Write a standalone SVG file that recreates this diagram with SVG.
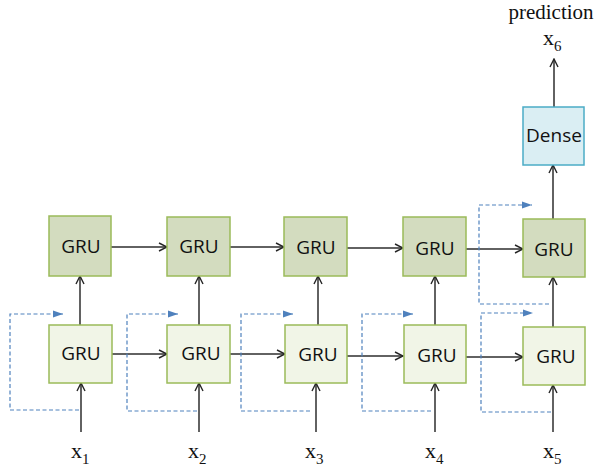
<svg xmlns="http://www.w3.org/2000/svg" width="599" height="469" viewBox="0 0 599 469">
<defs>
<marker id="ah" markerWidth="10" markerHeight="10" refX="9" refY="5" orient="auto" markerUnits="userSpaceOnUse">
<path d="M1,1 L9,5 L1,9" fill="none" stroke="#262626" stroke-width="1.4"/>
</marker>
<marker id="bh" markerWidth="12" markerHeight="10" refX="10" refY="5" orient="auto" markerUnits="userSpaceOnUse">
<path d="M0,1.5 L10,5 L0,8.5 Z" fill="#4f81bd"/>
</marker>
<style>
.top{fill:#d3dcbf;stroke:#9bbb59;stroke-width:1.5}
.bot{fill:#f1f5e7;stroke:#9bbb59;stroke-width:1.5}
.dense{fill:#daeef3;stroke:#4bacc6;stroke-width:1.5}
.lbl{font-family:"Open Sans",sans-serif;font-size:19px;fill:#111;text-anchor:middle}
.ser{font-family:"Liberation Serif",serif;font-size:22px;fill:#111}
.sub{font-size:15px}
.c{fill:none;stroke:#2e2e2e;stroke-width:1.5;marker-end:url(#ah)}
.d{fill:none;stroke:#4f81bd;stroke-width:1.2;stroke-dasharray:4,2.5;marker-end:url(#bh)}
</style>
</defs>
<g id="connectors">
<path class="c" d="M81,432 V383"/>
<path class="c" d="M199,432 V383"/>
<path class="c" d="M316,432 V383"/>
<path class="c" d="M435,432 V383"/>
<path class="c" d="M553,432 V385"/>
<path class="c" d="M80,325 V276"/>
<path class="c" d="M199,325 V276"/>
<path class="c" d="M318,325 V276"/>
<path class="c" d="M435,325 V276"/>
<path class="c" d="M553,327 V277"/>
<path class="c" d="M111,247 H167"/>
<path class="c" d="M230,247 H284"/>
<path class="c" d="M347,248 H403"/>
<path class="c" d="M466,249 H523"/>
<path class="c" d="M112,354 H167"/>
<path class="c" d="M230,354 H285"/>
<path class="c" d="M347,356 H403"/>
<path class="c" d="M466,357 H523"/>
<path class="c" d="M553,219 V165"/>
<path class="c" d="M554,107 V59"/>
<path class="d" d="M79,410 H10 V314 H63"/>
<path class="d" d="M197,411 H127 V314 H178"/>
<path class="d" d="M310,411 H241 V314 H293"/>
<path class="d" d="M431,411 H362 V314 H413"/>
<path class="d" d="M551,412 H481 V313 H533"/>
<path class="d" d="M549,304 H479 V205 H532"/>
</g>
<g id="gru_top_1"><rect class="top" x="49" y="216" width="62" height="60"/><text class="lbl" x="81" y="253">GRU</text></g>
<g id="gru_top_2"><rect class="top" x="167" y="217" width="63" height="59"/><text class="lbl" x="199" y="253">GRU</text></g>
<g id="gru_top_3"><rect class="top" x="284" y="217" width="63" height="59"/><text class="lbl" x="316" y="254">GRU</text></g>
<g id="gru_top_4"><rect class="top" x="403" y="217" width="63" height="59"/><text class="lbl" x="435" y="255">GRU</text></g>
<g id="gru_top_5"><rect class="top" x="523" y="219" width="62" height="58"/><text class="lbl" x="554" y="256">GRU</text></g>
<g id="gru_bot_1"><rect class="bot" x="49" y="325" width="63" height="58"/><text class="lbl" x="81" y="360">GRU</text></g>
<g id="gru_bot_2"><rect class="bot" x="167" y="325" width="63" height="58"/><text class="lbl" x="201" y="360">GRU</text></g>
<g id="gru_bot_3"><rect class="bot" x="285" y="325" width="62" height="58"/><text class="lbl" x="318" y="361">GRU</text></g>
<g id="gru_bot_4"><rect class="bot" x="404" y="325" width="62" height="58"/><text class="lbl" x="437" y="362">GRU</text></g>
<g id="gru_bot_5"><rect class="bot" x="523" y="327" width="62" height="58"/><text class="lbl" x="556" y="363">GRU</text></g>
<g id="dense"><rect class="dense" x="523" y="107" width="61" height="58"/><text class="lbl" x="554" y="142">Dense</text></g>
<g id="labels">
<text class="ser" x="71" y="458">x<tspan class="sub" dy="6">1</tspan></text>
<text class="ser" x="188" y="458">x<tspan class="sub" dy="6">2</tspan></text>
<text class="ser" x="305" y="458">x<tspan class="sub" dy="6">3</tspan></text>
<text class="ser" x="425" y="458">x<tspan class="sub" dy="6">4</tspan></text>
<text class="ser" x="543" y="458">x<tspan class="sub" dy="6">5</tspan></text>
<text class="ser" x="543" y="45">x<tspan class="sub" dy="6">6</tspan></text>
<text class="ser" x="551" y="19" text-anchor="middle" style="font-size:21px">prediction</text>
</g>
</svg>
